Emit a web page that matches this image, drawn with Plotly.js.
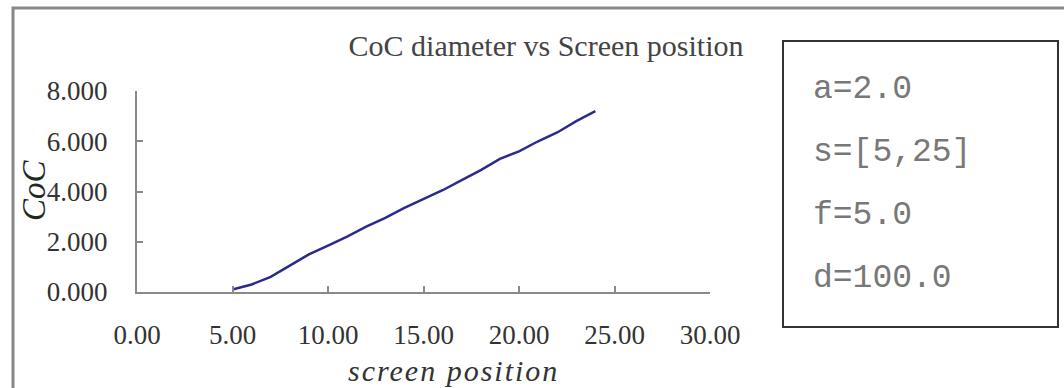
<!DOCTYPE html>
<html>
<head>
<meta charset="utf-8">
<script src="https://cdn.plot.ly/plotly-3.0.1.min.js"></script>
<style>
html, body { margin: 0; padding: 0; background: #ffffff; }
#chart { width: 1064px; height: 388px; }
g.annotation[data-index="0"] text { letter-spacing: 2px; }
</style>
</head>
<body>
<div id="chart"></div>
<script>
// Data
const screenPosition = [5, 6, 7, 8, 9, 10, 11, 12, 13, 14, 15, 16, 17, 18, 19, 20, 21, 22, 23, 24];
const cocDiameter = [0.10, 0.30, 0.60, 1.05, 1.50, 1.85, 2.20, 2.60, 2.95, 3.35, 3.70, 4.05, 4.45, 4.85, 5.30, 5.60, 6.00, 6.35, 6.80, 7.20];
const chartTitle = "CoC diameter vs Screen position";
const xTitle = "screen position";
const yTitle = "CoC";
const paramLabels = ["a=2.0", "s=[5,25]", "f=5.0", "d=100.0"];

const serif = "Liberation Serif, Times New Roman, serif";
const mono = "Liberation Mono, Courier New, monospace";

// paper-coordinate helpers (plot area: x 137..710 px, y 91..292 px)
const L = 137, R = 710, T = 91, B = 292;
const px = v => (v - L) / (R - L);
const py = v => (B - v) / (B - T);

const paramY = [90, 152, 215, 278];

const annotations = [
  {
    text: xTitle, xref: "paper", yref: "paper",
    x: px(453), y: py(370), xanchor: "center", yanchor: "middle",
    showarrow: false,
    font: { family: serif, size: 30, style: "italic", color: "#333333" }
  },
  {
    text: yTitle, xref: "paper", yref: "paper",
    x: px(34), y: py(190), xanchor: "center", yanchor: "middle",
    textangle: -90, showarrow: false,
    font: { family: serif, size: 33, style: "italic", color: "#1f2a1f" }
  }
];
paramLabels.forEach((t, i) => {
  annotations.push({
    text: t, xref: "paper", yref: "paper",
    x: px(811), y: py(paramY[i]), xanchor: "left", yanchor: "middle",
    showarrow: false,
    font: { family: mono, size: 33, color: "#787878" }
  });
});

const trace = {
  x: screenPosition,
  y: cocDiameter,
  type: "scatter",
  mode: "lines",
  line: { color: "#2b2b8c", width: 2.5 },
  showlegend: false,
  hoverinfo: "skip"
};

const layout = {
  width: 1064, height: 388,
  margin: { l: L, r: 1064 - R, t: T, b: 388 - B, pad: 0 },
  paper_bgcolor: "#ffffff",
  plot_bgcolor: "#ffffff",
  showlegend: false,
  title: {
    text: chartTitle,
    font: { family: serif, size: 30, color: "#444444" },
    xref: "paper", x: px(546), xanchor: "center",
    yref: "container", y: 1 - 45 / 388, yanchor: "middle"
  },
  xaxis: {
    range: [0, 30], dtick: 5, tick0: 0, tickformat: ".2f",
    showline: true, linecolor: "#8a8a8a", linewidth: 2,
    ticks: "inside", ticklen: 6, tickwidth: 2, tickcolor: "#8a8a8a",
    showgrid: false, zeroline: false, fixedrange: true,
    ticklabelstandoff: 18,
    tickfont: { family: serif, size: 27, color: "#333333" },
    automargin: false
  },
  yaxis: {
    range: [0, 8], dtick: 2, tick0: 0, tickformat: ".3f",
    showline: true, linecolor: "#8a8a8a", linewidth: 2,
    ticks: "inside", ticklen: 6, tickwidth: 2, tickcolor: "#8a8a8a",
    showgrid: false, zeroline: false, fixedrange: true,
    ticklabelstandoff: 22,
    tickfont: { family: serif, size: 27, color: "#333333" },
    automargin: false
  },
  shapes: [
    { type: "rect", xref: "paper", yref: "paper",
      x0: px(13), x1: px(1075), y0: py(400), y1: py(8),
      line: { color: "#888888", width: 3 }, fillcolor: "rgba(0,0,0,0)", layer: "below" },
    { type: "rect", xref: "paper", yref: "paper",
      x0: px(783), x1: px(1058), y0: py(327), y1: py(41),
      line: { color: "#333333", width: 2 }, fillcolor: "rgba(0,0,0,0)" }
  ],
  annotations: annotations
};

Plotly.newPlot("chart", [trace], layout, { displayModeBar: false, staticPlot: true });
</script>
</body>
</html>
